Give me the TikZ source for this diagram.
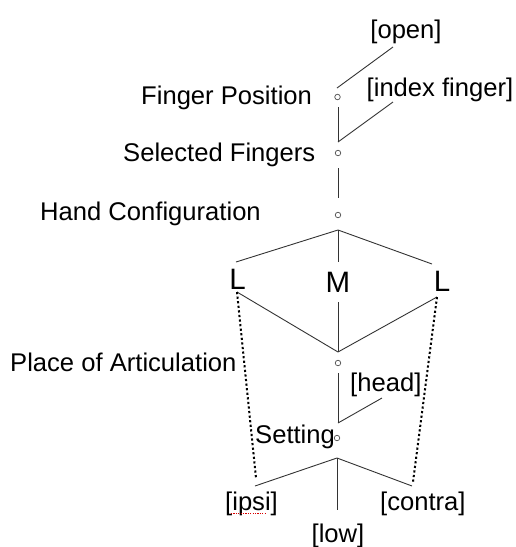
\documentclass[tikz,border=0pt]{standalone}
\usepackage{fontspec}
\setmainfont{Liberation Sans}
\begin{document}
\begin{tikzpicture}[x=1pt,y=-1pt,
  lbl/.style={inner sep=0pt,font=\fontsize{25.6}{29}\selectfont,text=black},
  big/.style={inner sep=0pt,font=\fontsize{29.5}{33}\selectfont,text=black},
  dot/.style={circle,draw=black!70,line width=0.7pt,minimum size=5.5pt,inner sep=0pt},
  edge/.style={draw=black!80,line width=0.9pt},
  dotline/.style={draw=black,line width=2pt,dash pattern=on 2.2pt off 2.4pt}]
\useasboundingbox (0,0) rectangle (516,547);
% texts
\node[lbl,anchor=base] (open) at (406,38) {[open]};
\node[lbl,anchor=base] (index) at (440,96) {[index finger]};
\node[lbl,anchor=base west] (fp) at (141,104.5) {Finger Position};
\node[lbl,anchor=base west] (sf) at (123,161.5) {Selected Fingers};
\node[lbl,anchor=base west] (hc) at (40,220.5) {Hand Configuration};
\node[big,anchor=base] (Ll) at (237.5,289.5) {L};
\node[big,anchor=base] (M) at (338,292) {M};
\node[big,anchor=base] (Lr) at (442,291) {L};
\node[lbl,anchor=base west] (poa) at (10,371) {Place of Articulation};
\node[lbl,anchor=base west] (head) at (350,391) {[head]};
\node[lbl,anchor=base west] (set) at (255,443) {Setting};
\node[lbl,anchor=base west] (ipsi) at (225,510) {[ipsi]};
\node[lbl,anchor=base west] (contra) at (380,510) {[contra]};
\node[lbl,anchor=base] (low) at (338,542) {[low]};
% small circles
\node[dot] (c1) at (337.5,97) {};
\node[dot] (c2) at (338,153) {};
\node[dot] (c3) at (338,215) {};
\node[dot] (c4) at (338,363) {};
\node[dot] (c5) at (337,438) {};
% connector points
\coordinate (o1) at (337,88);
\coordinate (o2) at (393,47);
\coordinate (v1a) at (338,107);
\coordinate (v1b) at (338,142);
\coordinate (i2) at (393,102);
\coordinate (v2a) at (338,168);
\coordinate (v2b) at (338,198);
\coordinate (b3) at (338,230);
\coordinate (LlT) at (236,262);
\coordinate (MT) at (338,262);
\coordinate (LrT) at (432,264);
\coordinate (LlB) at (237,292);
\coordinate (MB) at (338,302);
\coordinate (LrB) at (437,297);
\coordinate (b4) at (338,352);
\coordinate (dl) at (256,478);
\coordinate (dr) at (413,482);
\coordinate (v4a) at (338,373);
\coordinate (v4b) at (338,423);
\coordinate (h2) at (382,398);
\coordinate (b5) at (337,458);
\coordinate (ip) at (255,486);
\coordinate (co) at (412,486);
\coordinate (lo) at (337,510);
% connectors
\draw[edge] (o1) -- (o2);
\draw[edge] (v1a) -- (v1b);
\draw[edge] (v1b) -- (i2);
\draw[edge] (v2a) -- (v2b);
\draw[edge] (b3) -- (LlT);
\draw[edge] (b3) -- (MT);
\draw[edge] (b3) -- (LrT);
\draw[edge] (LlB) -- (b4);
\draw[edge] (MB) -- (b4);
\draw[edge] (LrB) -- (b4);
\draw[dotline] (LlB) -- (dl);
\draw[dotline] (LrB) -- (dr);
\draw[edge] (v4a) -- (v4b);
\draw[edge] (v4b) -- (h2);
\draw[edge] (b5) -- (ip);
\draw[edge] (b5) -- (co);
\draw[edge] (b5) -- (lo);
% spell-check underline
\draw[red!85!black,line width=1.2pt,dash pattern=on 1.2pt off 1.2pt] (231,513.5) -- (266,513.5);
\end{tikzpicture}
\end{document}
